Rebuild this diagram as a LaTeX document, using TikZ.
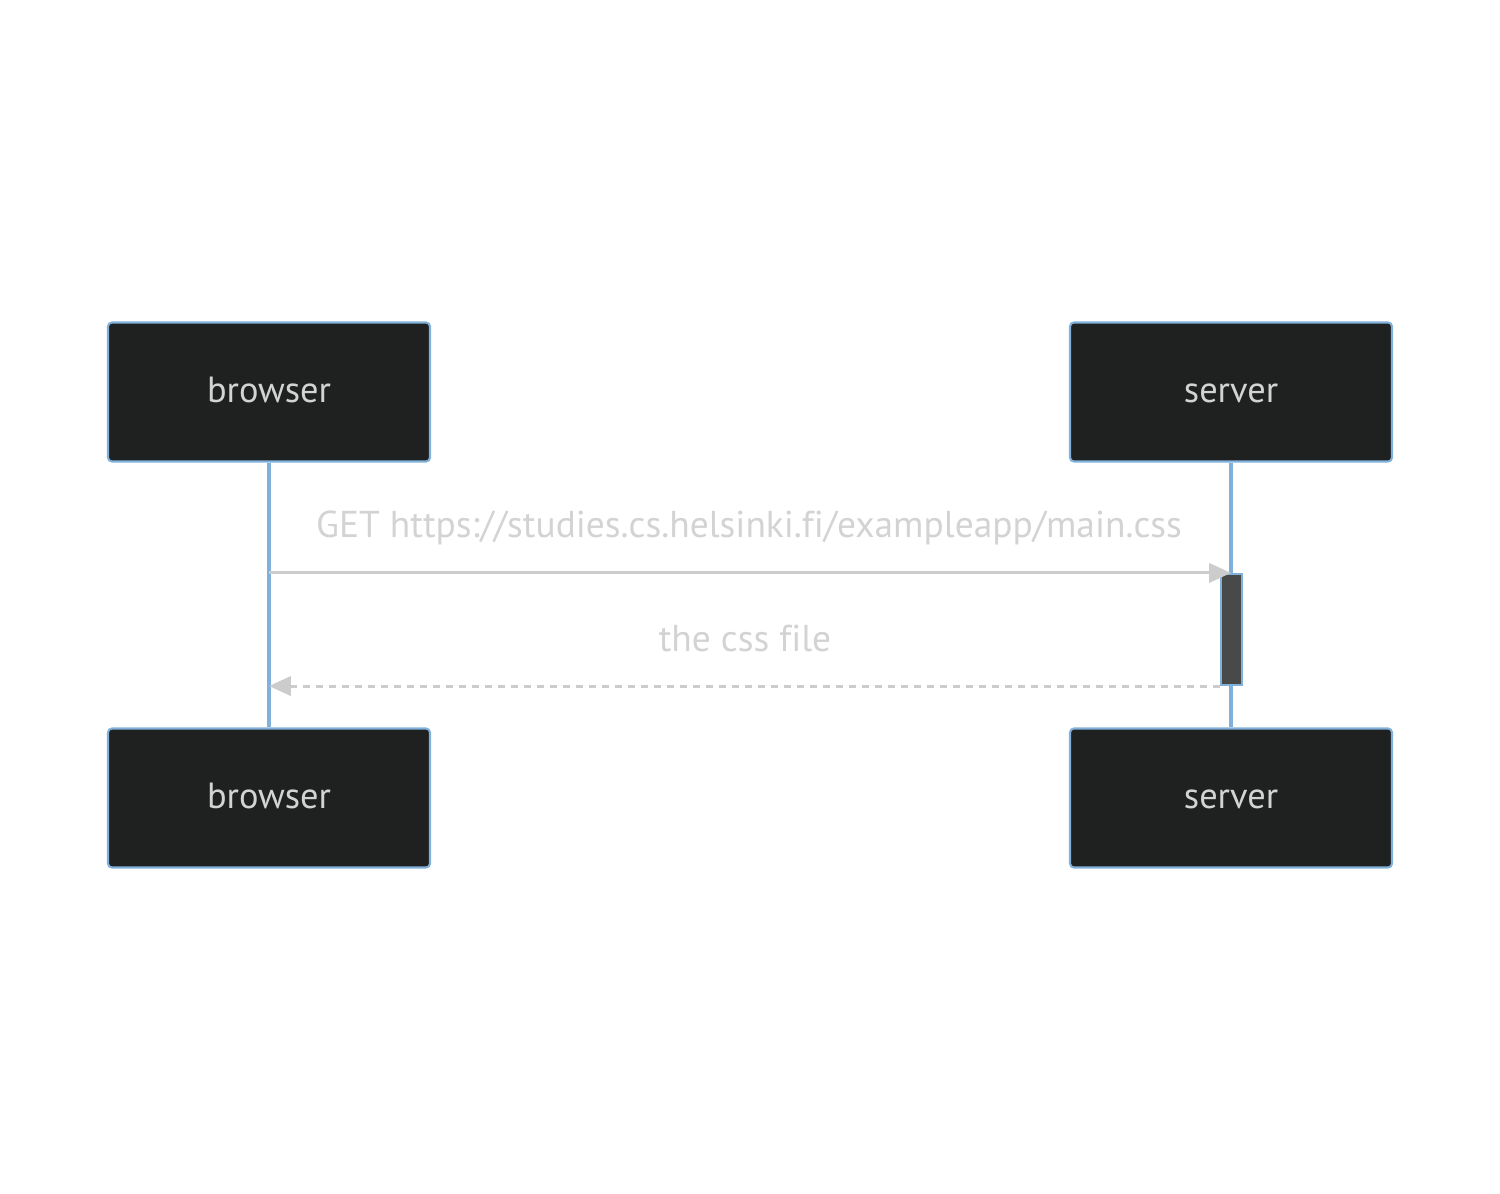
\documentclass[tikz,border=0pt]{standalone}
\usepackage{fontspec}
\setmainfont{PT Sans}[Ligatures=NoCommon]
\usepackage{xcolor}
\usetikzlibrary{arrows.meta,positioning}

\definecolor{lifeblue}{RGB}{129,177,219}
\definecolor{actorfill}{RGB}{31,32,32}
\definecolor{actfill}{RGB}{72,73,73}
\definecolor{msggray}{RGB}{204,204,204}
\definecolor{txtgray}{RGB}{211,211,211}

\begin{document}
\begin{tikzpicture}[
  x=0.02cm, y=-0.02cm,
  % ---- boxes -------------------------------------------------------------
  actor/.style={
    draw=lifeblue, line width=1.2pt, fill=actorfill, rounded corners=2.2pt,
    minimum width=6.44cm, minimum height=2.78cm, inner sep=0pt,
    text height=1.2em, text depth=0em,
    text=txtgray, font=\fontsize{20.7}{24}\selectfont},
  activation/.style={
    draw=lifeblue, line width=1.2pt, fill=actfill,
    minimum width=0.42cm, minimum height=2.22cm, inner sep=0pt},
  % ---- edges -------------------------------------------------------------
  lifeline/.style={draw=lifeblue, line width=2.1pt},
  msg/.style={draw=msggray, line width=1.7pt, -{Triangle[length=12.5pt,width=11pt]}},
  reply/.style={msg, dashed, dash pattern=on 4pt off 3.4pt},
  msglabel/.style={text=txtgray, font=\fontsize{21.3}{25}\selectfont, inner sep=0pt},
]
\useasboundingbox (0,0) rectangle (1500,1193);

% ---- actors ----------------------------------------------------------------
\node[actor] (browserTop) at (269,392) {browser};
\node[actor] (serverTop)  at (1231,392) {server};
\node[actor] (browserBot) at (269,798) {browser};
\node[actor] (serverBot)  at (1231,798) {server};

% ---- lifelines -------------------------------------------------------------
\draw[lifeline] (browserTop.south) -- (browserBot.north);
\draw[lifeline] (serverTop.south) -- (serverBot.north);

% ---- activation ------------------------------------------------------------
\node[activation] (act) at (1231.5,629.5) {};

% ---- messages --------------------------------------------------------------
\coordinate (getStart) at (browserTop.south |- act.north);
\coordinate (getEnd)   at (serverTop.south |- act.north);
\coordinate (replyEnd) at (browserTop.south |- act.south);
\draw[msg] (getStart) -- (getEnd);
\node[msglabel] (getLabel) at (749,528) {GET https://studies.cs.helsinki.fi/exampleapp/main.css};

\draw[reply] (act.south west) -- (replyEnd);
\node[msglabel] (replyLabel) at (745,638) {the css file};

\end{tikzpicture}
\end{document}
